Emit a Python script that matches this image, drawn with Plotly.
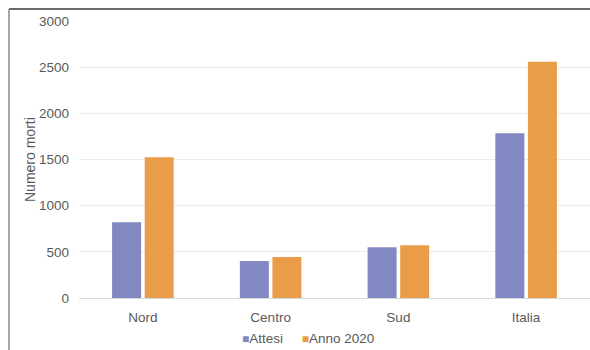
import plotly.graph_objects as go

# Deaths by area: expected vs. 2020
categories = ["Nord", "Centro", "Sud", "Italia"]
attesi = [820, 400, 550, 1785]
anno_2020 = [1525, 445, 570, 2560]
y_ticks = [0, 500, 1000, 1500, 2000, 2500, 3000]
series_names = ["Attesi", "Anno 2020"]
series_colors = ["#8288C2", "#E99D48"]

W, H = 590, 350
L, R, T, B = 79, 0, 21, 52
plot_w = W - L - R
plot_h = H - T - B

font_family = "Liberation Sans, Arial, sans-serif"
text_color = "#595959"

fig = go.Figure()
for name, values, color in zip(series_names, [attesi, anno_2020], series_colors):
    fig.add_trace(go.Bar(name=name, x=categories, y=values,
                         marker=dict(color=color, line=dict(width=0))))

# compact legend: small coloured squares right before each label
legend_text = "&nbsp;&nbsp;&nbsp;&nbsp;&nbsp;".join(
    f"<span style='color:{c}; font-size:12px'>■</span>{n}"
    for n, c in zip(series_names, series_colors)
)

fig.update_layout(
    width=W, height=H,
    margin=dict(l=L, r=R, t=T, b=B, autoexpand=False),
    paper_bgcolor="white", plot_bgcolor="white",
    barmode="group", bargap=0.49, bargroupgap=0.11,
    font=dict(family=font_family, color=text_color, size=13),
    showlegend=False,
    xaxis=dict(showgrid=False, showline=False, ticks="",
               tickfont=dict(size=13.5, color=text_color),
               ticklabelstandoff=9),
    yaxis=dict(range=[0, 3000], tickvals=y_ticks, showgrid=True,
               gridcolor="#ECECEC", gridwidth=1, zeroline=True,
               zerolinecolor="#D9D9D9", zerolinewidth=1,
               showline=False, ticks="",
               tickfont=dict(size=13.5, color=text_color),
               ticklabelstandoff=9),
    annotations=[
        dict(text="Numero morti", xref="paper", yref="paper",
             x=(30 - L) / plot_w, y=1 - (160 - T) / plot_h, xanchor="center",
             yanchor="middle", textangle=-90, showarrow=False,
             font=dict(size=14, color=text_color)),
        dict(text=legend_text, xref="paper", yref="paper",
             x=(308 - L) / plot_w, y=-(338 - T - plot_h) / plot_h,
             xanchor="center", yanchor="middle", showarrow=False,
             font=dict(size=13.5, color=text_color)),
    ],
    shapes=[
        # frame: top and left edges
        dict(type="line", xref="paper", yref="paper",
             x0=(9 - L) / plot_w, x1=1.0,
             y0=1 + (T - 9) / plot_h, y1=1 + (T - 9) / plot_h,
             line=dict(color="#3A3A3A", width=1.5)),
        dict(type="line", xref="paper", yref="paper",
             x0=(9 - L) / plot_w, x1=(9 - L) / plot_w,
             y0=-B / plot_h - 0.01, y1=1 + (T - 9) / plot_h,
             line=dict(color="#8A8A8A", width=1.5)),
    ],
)

fig.write_html("out.html")
